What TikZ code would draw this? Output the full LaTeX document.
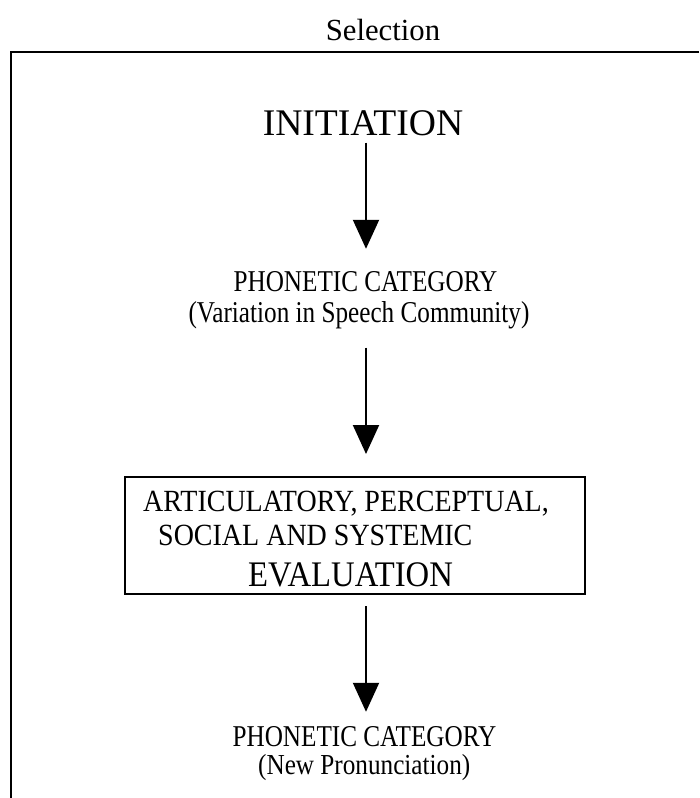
\documentclass[tikz,border=0pt]{standalone}
\usepackage{fontspec}
\setmainfont{Liberation Serif}
\usetikzlibrary{arrows.meta,calc}
% narrow lettering: stretch a line vertically by #1
\newcommand{\narrowtext}[2]{\scalebox{1}[#1]{#2}}
\begin{document}
\begin{tikzpicture}[x=1pt,y=-1pt,
  txthead/.style={inner sep=0pt, font=\fontsize{30.7}{35}\selectfont},
  txtsmall/.style={inner sep=0pt, font=\fontsize{25.2}{30}\selectfont},
  txtmid/.style={inner sep=0pt, font=\fontsize{28}{32}\selectfont},
  txtlarge/.style={inner sep=0pt, font=\fontsize{37.6}{42}\selectfont},
  txteval/.style={inner sep=0pt, font=\fontsize{32.7}{38}\selectfont},
  flow/.style={line width=2pt, -{Triangle[width=26pt,length=29pt]}},
  frameline/.style={line width=2.2pt},
  evalframe/.style={draw, line width=2pt, minimum width=460pt, minimum height=117pt, inner sep=0pt},
]
\useasboundingbox (0,0) rectangle (699,798);

% open frame with its heading
\draw[frameline] (699,52) -- (11,52) -- (11,798);
\node[txthead, anchor=base] (sel) at (383,40) {Selection};

% stages
\node[txtlarge, anchor=base] (init) at (363,135) {INITIATION};
\node[txtsmall, anchor=base] (ph1a) at (365.5,291) {\narrowtext{1.2}{PHONETIC CATEGORY}};
\node[txtsmall, anchor=base] (ph1b) at (359,322) {\narrowtext{1.2}{(Variation in Speech Community)}};

\node[evalframe] (evalbox) at (355,535.5) {};
\node[txtmid, anchor=base west] (ev1) at (143,511) {\narrowtext{1.1}{ARTICULATORY, PERCEPTUAL,}};
\node[txtmid, anchor=base west] (ev2) at (158,545) {\narrowtext{1.1}{SOCIAL AND SYSTEMIC}};
\node[txteval, anchor=base west] (ev3) at (248,586) {\narrowtext{1.1}{EVALUATION}};

\node[txtsmall, anchor=base] (ph2a) at (364.5,746) {\narrowtext{1.2}{PHONETIC CATEGORY}};
\node[txtsmall, anchor=base west] (ph2b) at (258,774) {\narrowtext{1.15}{(New Pronunciation)}};

% arrows between the stages
\draw[flow] ($(init.south)+(3,7)$) -- ($(init.south |- ph1a.north)+(3,-22)$);
\draw[flow] ($(ph1b.south -| evalbox.north)+(11,19)$) -- ($(evalbox.north)+(11,-22)$);
\draw[flow] ($(evalbox.south)+(11,11)$) -- ($(ph2a.north -| evalbox.south)+(11,-14)$);
\end{tikzpicture}
\end{document}
